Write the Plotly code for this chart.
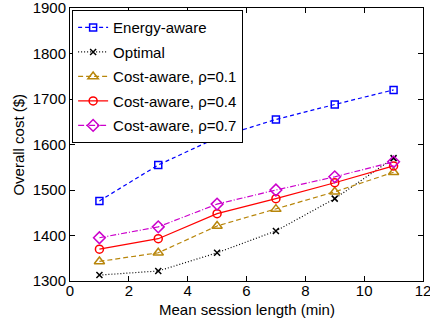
import plotly.graph_objects as go

x_vals = [1, 3, 5, 7, 9, 11]
energy_aware = [1476, 1555, 1615, 1655, 1688, 1720]
optimal = [1313, 1322, 1362, 1410, 1481, 1570]
cost_01 = [1343, 1362, 1421, 1458, 1496, 1539]
cost_04 = [1370, 1393, 1448, 1481, 1516, 1553]
cost_07 = [1395, 1419, 1469, 1500, 1529, 1562]

x_title = "Mean session length (min)"
y_title = "Overall cost ($)"

FONT = "Liberation Sans, Arial, Helvetica, sans-serif"

series = [
    ("Energy-aware", energy_aware, "#0000FF", "4px,3px", "square-open", 7),
    ("Optimal", optimal, "#000000", "1px,2px", "x-thin-open", 6),
    ("Cost-aware, ρ=0.1", cost_01, "#B8860B", "5px,3px", "triangle-up-open", 9),
    ("Cost-aware, ρ=0.4", cost_04, "#FF0000", "solid", "circle-open", 8),
    ("Cost-aware, ρ=0.7", cost_07, "#CC00CC", "6px,2px,1px,2px", "diamond-open", 9),
]

fig = go.Figure()
for i, (name, ys, color, dash, sym, size) in enumerate(series):
    fig.add_trace(go.Scatter(
        x=x_vals, y=ys, name=name, mode="lines+markers",
        line=dict(color=color, width=1.2, dash=dash),
        marker=dict(symbol=sym, size=size, color=color,
                    line=dict(color=color, width=1.5)),
        legendgroup=f"g{i}",
    ))

axis_common = dict(
    showline=True, linecolor="black", linewidth=1, mirror="ticks",
    ticks="inside", ticklen=5, tickcolor="black", showgrid=False,
    zeroline=False, automargin=False, ticklabeloverflow="allow",
    tickfont=dict(family=FONT, size=15, color="black"),
)

fig.update_layout(
    width=430, height=325,
    margin=dict(l=70, r=7, t=8, b=44),
    paper_bgcolor="white", plot_bgcolor="white",
    font=dict(family=FONT, size=15, color="black"),
    xaxis=dict(range=[0, 12], dtick=2, tick0=0, ticklabelstandoff=-4,
               **axis_common),
    yaxis=dict(range=[1300, 1900], dtick=100, tick0=1300, **axis_common),
    legend=dict(x=0.006, y=0.992, xanchor="left", yanchor="top",
                bordercolor="black", borderwidth=1, bgcolor="white",
                font=dict(family=FONT, size=15, color="black"),
                tracegroupgap=2, itemwidth=30),
    showlegend=True,
    annotations=[
        dict(text=x_title, xref="paper", yref="paper", x=0.5, y=-0.106,
             xanchor="center", yanchor="middle", showarrow=False,
             font=dict(family=FONT, size=15, color="black")),
        dict(text=y_title, xref="paper", yref="paper", x=-0.147, y=0.5,
             xanchor="center", yanchor="middle", textangle=-90, showarrow=False,
             font=dict(family=FONT, size=15, color="black")),
    ],
)

fig.write_html(
    "out.html",
    config={"displayModeBar": False},
    post_script="document.body.style.margin='0';document.body.style.padding='0';",
)
